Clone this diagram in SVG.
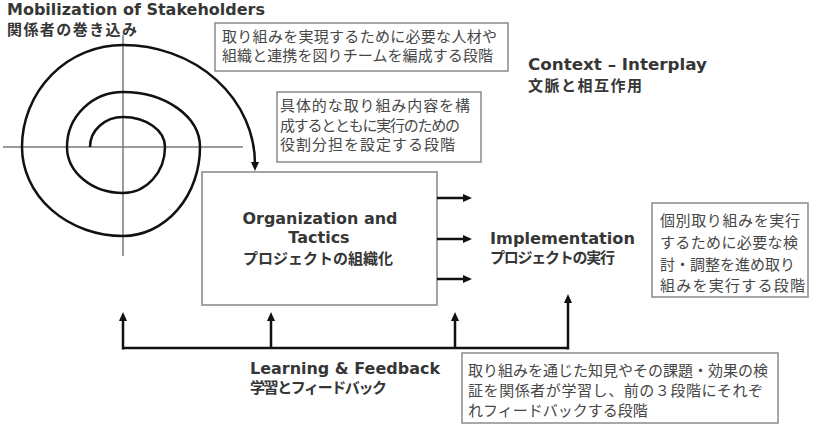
<svg xmlns="http://www.w3.org/2000/svg" width="826" height="431" viewBox="0 0 826 431">
<style>
.lat{font-family:"DejaVu Sans","Noto Sans CJK JP",sans-serif;font-weight:bold;font-size:16px;fill:#363636}
.jpb{font-family:"Noto Sans CJK JP",sans-serif;font-weight:bold;font-size:15px;fill:#363636}
.jp{font-family:"Noto Sans CJK JP",sans-serif;font-size:15px;fill:#474747}
.note{fill:#fff;stroke:#8a8a8a;stroke-width:1.5}
.axis{stroke:#7a7a7a;stroke-width:1.5;fill:none}
.conn{stroke:#111;stroke-width:2.5;fill:none}
</style>
<defs>
<marker id="ah" markerUnits="userSpaceOnUse" markerWidth="10" markerHeight="10" refX="2" refY="4" orient="auto">
<path d="M0,0 L9,4 L0,8 z" fill="#111"/>
</marker>
</defs>
<rect width="826" height="431" fill="#fff"/>

<g id="mobilization">
<line class="axis" x1="3" y1="147" x2="243" y2="147"/>
<line class="axis" x1="123" y1="35" x2="123" y2="256"/>
<text class="lat" x="7" y="15" textLength="258" lengthAdjust="spacingAndGlyphs">Mobilization of Stakeholders</text>
<text class="jpb" x="7" y="35" textLength="130">関係者の巻き込み</text>
</g>

<g id="note-mobilization">
<rect class="note" x="215" y="23" width="293" height="48"/>
<text class="jp" x="222" y="42" textLength="275">取り組みを実現するために必要な人材や</text>
<text class="jp" x="222" y="61" textLength="271">組織と連携を図りチームを編成する段階</text>
</g>

<g id="note-organization">
<rect class="note" x="277" y="92" width="204" height="70"/>
<text class="jp" x="280" y="111" textLength="190">具体的な取り組み内容を構</text>
<text class="jp" x="280" y="131" textLength="180">成するとともに実行のための</text>
<text class="jp" x="280" y="150" textLength="175">役割分担を設定する段階</text>
</g>

<g id="context">
<text class="lat" x="528" y="70" textLength="179" lengthAdjust="spacingAndGlyphs">Context – Interplay</text>
<text class="jpb" x="528" y="91" textLength="114">文脈と相互作用</text>
</g>

<g id="organization">
<rect x="202" y="172" width="235" height="133" fill="#fff" stroke="#a3a3a3" stroke-width="2"/>
<text class="lat" x="320" y="224" text-anchor="middle" textLength="155" lengthAdjust="spacingAndGlyphs">Organization and</text>
<text class="lat" x="319" y="243" text-anchor="middle">Tactics</text>
<text class="jpb" x="318" y="264" text-anchor="middle" textLength="150">プロジェクトの組織化</text>
</g>

<g id="implementation">
<text class="lat" x="490" y="244" textLength="145" lengthAdjust="spacingAndGlyphs">Implementation</text>
<text class="jpb" x="490" y="263" textLength="125">プロジェクトの実行</text>
</g>

<g id="note-implementation">
<rect class="note" x="652" y="203" width="156" height="94"/>
<text class="jp" x="660" y="226" textLength="140">個別取り組みを実行</text>
<text class="jp" x="660" y="248" textLength="138">するために必要な検</text>
<text class="jp" x="660" y="270" textLength="135">討・調整を進め取り</text>
<text class="jp" x="660" y="291" textLength="145">組みを実行する段階</text>
</g>

<g id="learning">
<text class="lat" x="250" y="374" textLength="190" lengthAdjust="spacingAndGlyphs">Learning &amp; Feedback</text>
<text class="jpb" x="250" y="393" textLength="137">学習とフィードバック</text>
</g>

<g id="note-learning">
<rect class="note" x="462" y="353" width="316" height="70"/>
<text class="jp" x="468" y="376" textLength="300">取り組みを通じた知見やその課題・効果の検</text>
<text class="jp" x="468" y="396" textLength="295">証を関係者が学習し、前の３段階にそれぞ</text>
<text class="jp" x="468" y="416">れフィードバックする段階</text>
</g>

<g id="connectors">
<path class="conn" marker-end="url(#ah)" d="M90,147 A33,30 0 0 1 123,117 A42,30 0 0 1 165,147 A42,46 0 0 1 123,193 A56,46 0 0 1 67,147 A56,55 0 0 1 123,92 A77,55 0 0 1 200,147 A77,89 0 0 1 123,236 A101,89 0 0 1 22,147 A101,102 0 0 1 123,45 A132,119 0 0 1 255,164"/>
<line class="conn" x1="437" y1="198" x2="465" y2="198" marker-end="url(#ah)"/>
<line class="conn" x1="437" y1="239" x2="465" y2="239" marker-end="url(#ah)"/>
<line class="conn" x1="437" y1="279" x2="465" y2="279" marker-end="url(#ah)"/>
<path class="conn" stroke-width="3" d="M123,348 L568,348"/>
<line class="conn" stroke-width="3" x1="123" y1="349.5" x2="123" y2="319" marker-end="url(#ah)"/>
<line class="conn" stroke-width="3" x1="271" y1="348" x2="271" y2="319" marker-end="url(#ah)"/>
<line class="conn" stroke-width="3" x1="455" y1="348" x2="455" y2="319" marker-end="url(#ah)"/>
<line class="conn" stroke-width="3" x1="568" y1="349.5" x2="568" y2="301" marker-end="url(#ah)"/>
</g>
</svg>
